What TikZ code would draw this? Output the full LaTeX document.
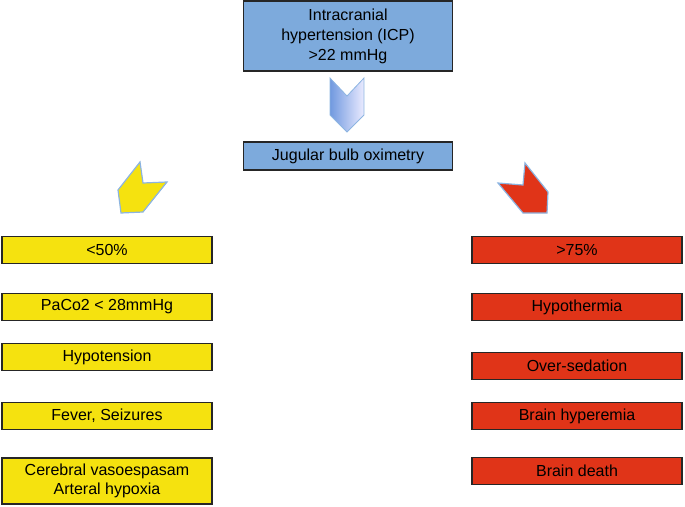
\documentclass[tikz,border=0pt]{standalone}
\usepackage{fontspec}
\setmainfont{Liberation Sans}
\definecolor{icpblue}{RGB}{125,170,220}
\definecolor{lowyellow}{RGB}{245,226,15}
\definecolor{highred}{RGB}{224,52,24}
\definecolor{rimblue}{RGB}{140,180,225}
\begin{document}
\begin{tikzpicture}[x=1pt, y=-1pt, line width=1.5pt,
		box/.style={draw=black!85, align=center, inner sep=0pt, font=\fontsize{16}{20}\selectfont},
		lowbox/.style={box, fill=lowyellow, minimum width=210pt, minimum height=27pt},
		highbox/.style={box, fill=highred, minimum width=210pt, minimum height=27pt},
		chev/.style={draw=rimblue, line width=1.2pt, line join=miter}
		]
	\useasboundingbox (0,0) rectangle (685,506);
	% top of the chart
	\node [box, fill=icpblue, minimum width=209pt, minimum height=70pt] (icp) at (348,36) {Intracranial\\hypertension (ICP)\\>22 mmHg};
	\node [box, fill=icpblue, minimum width=209pt, minimum height=28pt] (jbo) at (348,156) {Jugular bulb oximetry};
	\draw [chev, left color=icpblue!90!blue, right color=blue!8, line width=0.8pt]
		(330,78) -- (347,96) -- (364,78) -- (364,115) -- (347,132) -- (330,115) -- cycle;
	% low saturation side
	\draw [chev, fill=lowyellow] (140,162) -- (143,183) -- (167,182) -- (143,212) -- (121,213) -- (118,190) -- cycle;
	\node [lowbox] (l1) at (107,250) {<50\%};
	\node [lowbox] (l2) at (107,307) {PaCo2 < 28mmHg};
	\node [lowbox] (l3) at (107,357) {Hypotension};
	\node [lowbox] (l4) at (107,416) {Fever, Seizures};
	\node [lowbox, minimum height=46pt, font=\fontsize{16}{19}\selectfont] (l5) at (107,481) {Cerebral vasoespasam\\Arteral hypoxia};
	% high saturation side
	\draw [chev, fill=highred] (525,163) -- (523,185) -- (498,183) -- (523,213) -- (547,213) -- (548,192) -- cycle;
	\node [highbox] (r1) at (577,250) {>75\%};
	\node [highbox] (r2) at (577,307) {Hypothermia};
	\node [highbox] (r3) at (577,366) {Over-sedation};
	\node [highbox] (r4) at (577,416) {Brain hyperemia};
	\node [highbox] (r5) at (577,471) {Brain death};
\end{tikzpicture}
\end{document}
